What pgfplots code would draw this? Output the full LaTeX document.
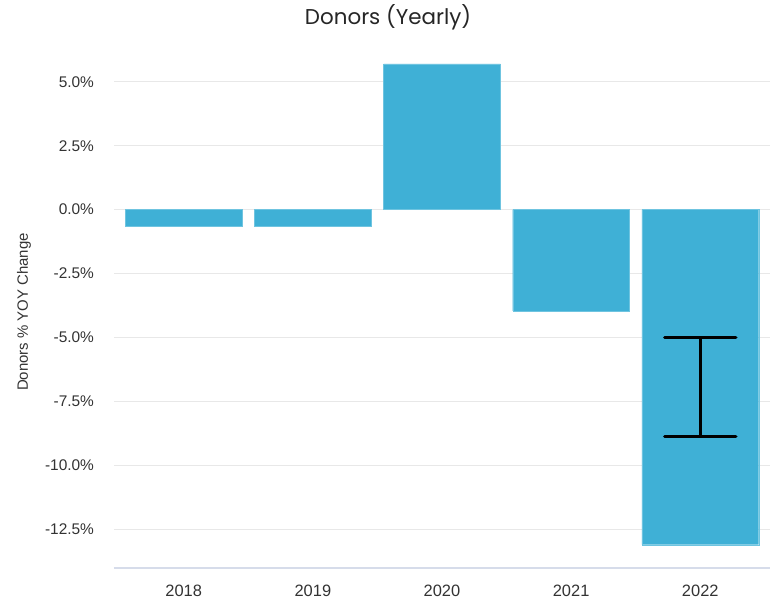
\documentclass[border=0pt]{standalone}
\usepackage{pgfplots}
\pgfplotsset{compat=1.18}
\usepackage{fontspec}
\setmainfont{Liberation Sans}
\newfontfamily\titlefont{Poppins}
\definecolor{barblue}{RGB}{63,176,214}
\definecolor{txt}{RGB}{51,51,51}
\definecolor{gridc}{RGB}{232,232,232}
\definecolor{axisc}{RGB}{214,220,234}

\begin{document}
\begin{tikzpicture}
  \path[use as bounding box] (-114bp,-42bp) rectangle (660bp,568bp);
  \begin{axis}[
    scale only axis, width=656bp, height=517bp,
    xmin=-0.54, xmax=4.54, ymin=-14, ymax=6.2,
    axis lines*=left,
    y axis line style={draw=none},
    x axis line style={axisc, line width=1.5bp},
    major tick length=0,
    xtick={0,1,2,3,4},
    xticklabels={2018,2019,2020,2021,2022},
    ytick={-12.5,-10,-7.5,-5,-2.5,0,2.5,5},
    yticklabels={-12.5\%,-10.0\%,-7.5\%,-5.0\%,-2.5\%,0.0\%,2.5\%,5.0\%},
    ymajorgrids, major grid style={gridc, line width=1.2bp},
    xticklabel style={font=\fontsize{16.5}{18}\selectfont, text=txt, yshift=-14bp},
    yticklabel style={font=\fontsize{15.5}{18}\selectfont, text=txt, xshift=-16.5bp},
    ylabel={Donors \% YOY Change},
    ylabel style={font=\fontsize{15}{18}\selectfont, text=txt, at={(axis description cs:-0.1372,0.495)}, anchor=center},
    title={\titlefont Donors (Yearly)},
    title style={font=\fontsize{21.5}{24}\selectfont, text=black!85, at={(axis description cs:0.4178,1)}, anchor=center, yshift=28bp},
  ]
    \addplot[ybar, bar width=0.905, fill=barblue, draw=barblue!75!white] coordinates {(0,-0.63) (1,-0.63) (2,5.70) (3,-3.95) (4,-13.09)};
    % error bar on 2022
    \addplot[black, line width=3.5bp] coordinates {(4,-5.0) (4,-8.87)};
    \addplot[black, line width=3.5bp, line cap=round] coordinates {(3.725,-5.0) (4.275,-5.0)};
    \addplot[black, line width=3.5bp, line cap=round] coordinates {(3.725,-8.87) (4.275,-8.87)};
  \end{axis}
\end{tikzpicture}
\end{document}
